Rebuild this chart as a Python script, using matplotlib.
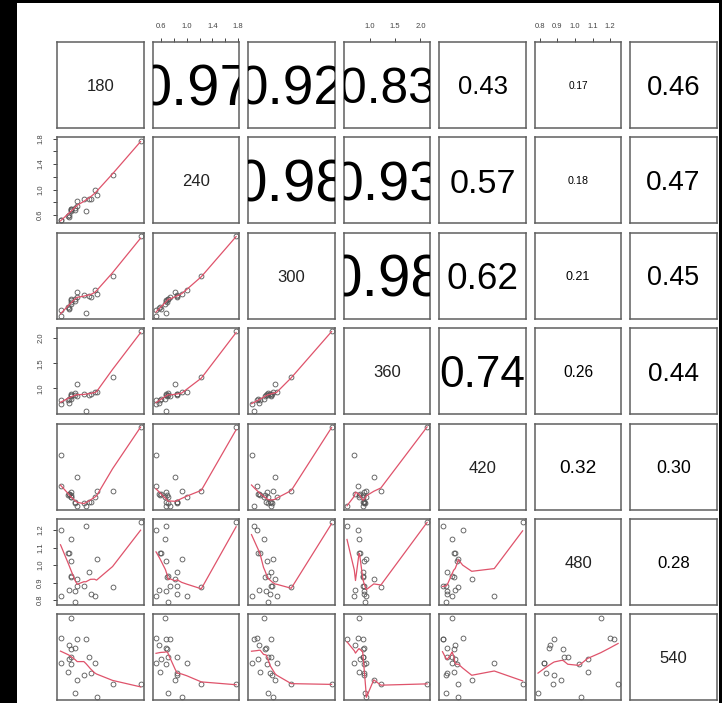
import numpy as np
import matplotlib
matplotlib.use("Agg")
import matplotlib.pyplot as plt
import matplotlib.transforms as mtransforms
from matplotlib.patches import Rectangle

plt.rcParams['font.family'] = ['Liberation Sans', 'DejaVu Sans']

names = ['180', '240', '300', '360', '420', '480', '540']

v180 = [0.50, 0.51, 0.61, 0.62, 0.63, 0.65, 0.65, 0.65, 0.65, 0.72, 0.72,
        0.75, 0.75, 0.85, 0.88, 0.92, 0.95, 1.01, 1.04, 1.28, 1.70]
v240 = [0.518, 0.523, 0.58, 0.598, 0.571, 0.656, 0.68, 0.70, 0.69, 0.68, 0.71,
        0.816, 0.74, 0.848, 0.667, 0.848, 0.848, 0.997, 0.92, 1.226, 1.77]
v300 = [0.00, 0.07, 0.11, 0.086, 0.098, 0.15, 0.19, 0.203, 0.17, 0.182, 0.203,
        0.295, 0.24, 0.253, 0.036, 0.245, 0.232, 0.316, 0.266, 0.496, 1.00]
v360 = [0.697, 0.776, 0.78, 0.80, 0.72, 0.79, 0.89, 0.875, 0.86, 0.88, 0.90,
        1.08, 0.86, 0.888, 0.553, 0.868, 0.888, 0.934, 0.921, 1.22, 2.13]
v420 = [0.647, 0.253, 0.147, 0.155, 0.16, 0.122, 0.18, 0.122, 0.14, 0.06, 0.04,
        0.366, 0.002, 0.044, 0.002, 0.052, 0.052, 0.119, 0.19, 0.199, 1.00]
v480 = [0.823, 1.20, 1.072, 1.072, 0.857, 1.147, 1.021, 0.936, 0.93, 0.851, 0.791,
        0.921, 0.883, 0.883, 1.223, 0.960, 0.838, 0.826, 1.034, 0.874, 1.245]
v540 = [0.43, 0.748, 0.32, 0.477, 0.659, 1.00, 0.42, 0.50, 0.604, 0.616, 0.049,
        0.214, 0.735, 0.282, 0.731, 0.506, 0.299, 0.434, 0.0, 0.168, 0.168]

# correlations shown in the upper panels (row by row)
cor_values = [
    [0.97, 0.92, 0.83, 0.43, 0.17, 0.46],
    [0.98, 0.93, 0.57, 0.18, 0.47],
    [0.98, 0.62, 0.21, 0.45],
    [0.74, 0.26, 0.44],
    [0.32, 0.30],
    [0.28],
]

# axis ticks drawn on the even panels
ticks_240 = [0.6, 0.8, 1.0, 1.2, 1.4, 1.6, 1.8]
labels_240 = ['0.6', '', '1.0', '', '1.4', '', '1.8']
ticks_360 = [1.0, 1.5, 2.0]
labels_360 = ['1.0', '1.5', '2.0']
ticks_480 = [0.8, 0.9, 1.0, 1.1, 1.2]
labels_480 = ['0.8', '0.9', '1.0', '1.1', '1.2']
axis_ticks = {1: (ticks_240, labels_240), 3: (ticks_360, labels_360), 5: (ticks_480, labels_480)}

data = [np.array(v) for v in (v180, v240, v300, v360, v420, v480, v540)]


def lowess(x, y, f=2/3, it=3):
    o = np.argsort(x, kind='stable')
    x = np.asarray(x, float)[o]
    y = np.asarray(y, float)[o]
    n = len(x)
    ns = max(min(int(f * n + 1e-7), n), 2)
    rw = np.ones(n)
    ys = np.zeros(n)
    rng = x[-1] - x[0]
    for k in range(it + 1):
        for i in range(n):
            d = np.abs(x - x[i])
            h = np.sort(d)[ns - 1]
            if h > 0:
                q = d / h
                w = np.where(q <= 0.999, np.where(q <= 0.001, 1.0, (1 - q ** 3) ** 3), 0.0)
            else:
                w = (d == 0).astype(float)
            w = w * rw
            if w.sum() <= 0:
                ys[i] = y[i]
                continue
            w = w / w.sum()
            if h > 0:
                a = (w * x).sum()
                b = x[i] - a
                c = (w * (x - a) ** 2).sum()
                if np.sqrt(c) > 0.001 * rng:
                    b = b / c
                    w = w * (b * (x - a) + 1)
            ys[i] = (w * y).sum()
        if k == it:
            break
        res = np.abs(y - ys)
        cmad = 6 * np.median(res)
        if cmad < 1e-7 * np.mean(np.abs(y)):
            break
        rw = np.where(res <= 0.001 * cmad, 1.0,
                      np.where(res <= 0.999 * cmad, (1 - (res / cmad) ** 2) ** 2, 0.0))
    return x, ys


W, H = 722, 703
fig = plt.figure(figsize=(W / 100, H / 100), dpi=100)
fig.patch.set_facecolor('white')
# black frame around the picture
for rect in [(0, 0, 17 / W, 1), (719 / W, 0, 3 / W, 1), (0, (H - 3) / H, 1, 3 / H)]:
    fig.add_artist(Rectangle(rect[:2], rect[2], rect[3], transform=fig.transFigure,
                             facecolor='black', edgecolor='none', zorder=5))

nv = len(names)
x0, y0, pitch_x, pitch_y, pw, ph = 57.3, 42.0, 95.5, 95.4, 86.5, 86.0
frame_col = '#5f5f5f'

for r in range(nv):
    for c in range(nv):
        left = (x0 + c * pitch_x) / W
        bottom = 1 - (y0 + r * pitch_y + ph) / H
        ax = fig.add_axes([left, bottom, pw / W, ph / H])
        for s in ax.spines.values():
            s.set_color(frame_col)
            s.set_linewidth(1.1)
        ax.set_xticks([])
        ax.set_yticks([])

        xd, yd = data[c], data[r]
        xs = xd.max() - xd.min()
        ysp = yd.max() - yd.min()
        ax.set_xlim(xd.min() - 0.04 * xs, xd.max() + 0.04 * xs)
        ax.set_ylim(yd.min() - 0.04 * ysp, yd.max() + 0.04 * ysp)

        if r == c:
            fs = 12
            tr = mtransforms.offset_copy(ax.transAxes, fig=fig, y=-0.358 * fs, units='points')
            ax.text(0.5, 0.5, names[r], transform=tr, ha='center', va='baseline',
                    fontsize=fs, color='#222222')
        elif c > r:
            val = cor_values[r][c - r - 1]
            fs = 43 * val
            tr = mtransforms.offset_copy(ax.transAxes, fig=fig, y=-0.358 * fs, units='points')
            ax.text(0.5, 0.5, f'{val:.2f}', transform=tr, ha='center', va='baseline',
                    fontsize=fs, color='black', clip_on=True)
        else:
            ax.plot(xd, yd, 'o', mfc='none', mec='#555555', ms=3.5, mew=0.6)
            lx, ly = lowess(xd, yd)
            ax.plot(lx, ly, color='#DF536B', lw=0.9)

        if r == 0 and c in axis_ticks:
            t, lab = axis_ticks[c]
            ax.xaxis.tick_top()
            ax.set_xticks(t)
            ax.set_xticklabels(lab)
            ax.tick_params(axis='x', direction='out', length=3, width=0.7,
                           colors='#444444', labelsize=5.5, pad=5.5)
        if c == 0 and r in axis_ticks:
            t, lab = axis_ticks[r]
            ax.set_yticks(t)
            ax.set_yticklabels(lab, rotation=90, va='center')
            ax.tick_params(axis='y', direction='out', length=3, width=0.7,
                           colors='#444444', labelsize=5.5, pad=6.5)

fig.savefig('out.png', dpi=100)
